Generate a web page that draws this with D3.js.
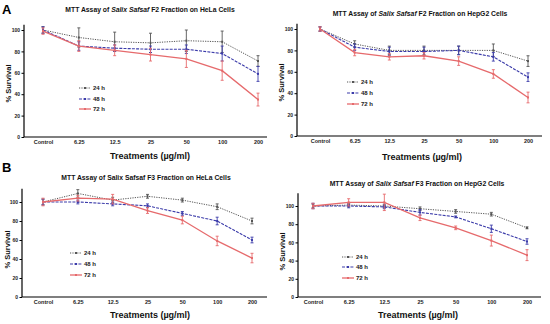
<!DOCTYPE html>
<html>
<head>
<meta charset="utf-8">
<script src="https://cdn.jsdelivr.net/npm/d3@7"></script>
<style>
  body { margin: 0; background: #fff; }
  svg { display: block; font-family: "Liberation Sans", Arial, sans-serif; }
</style>
</head>
<body>
<svg id="chart" width="550" height="324"></svg>
<script>
// categories shared by all four panels
const treatments = ["Control", "6.25", "12.5", "25", "50", "100", "200"];
const yTicks = [0, 20, 40, 60, 80, 100];
const seriesNames = ["24 h", "48 h", "72 h"];

// F2 on HeLa
const f2HelaMean24 = [100, 93, 89, 88, 90, 89, 71];
const f2HelaErr24  = [3, 9, 9, 9, 10, 10, 5];
const f2HelaMean48 = [100, 85, 83, 82, 82, 78, 59];
const f2HelaErr48  = [3, 4, 3, 3, 4, 7, 7];
const f2HelaMean72 = [99, 85, 81, 77, 73, 62, 35];
const f2HelaErr72  = [3, 5, 5, 6, 8, 9, 6];

// F2 on HepG2
const f2HepMean24 = [100, 86, 80, 80, 80, 80, 70];
const f2HepErr24  = [2, 3, 4, 4, 4, 6, 5];
const f2HepMean48 = [100, 83, 79, 79, 80, 74, 55];
const f2HepErr48  = [2, 3, 4, 4, 4, 4, 4];
const f2HepMean72 = [100, 78, 74, 75, 70, 58, 36];
const f2HepErr72  = [2, 3, 3, 3, 4, 4, 5];

// F3 on HeLa
const f3HelaMean24 = [100, 109, 102, 106, 102, 95, 80];
const f3HelaErr24  = [3, 4, 3, 2, 2, 3, 3];
const f3HelaMean48 = [100, 100, 98, 96, 88, 80, 60];
const f3HelaErr48  = [3, 2, 2, 2, 2, 4, 3];
const f3HelaMean72 = [100, 104, 103, 91, 81, 59, 41];
const f3HelaErr72  = [4, 3, 5, 3, 4, 5, 5];

// F3 on HepG2
const f3HepMean24 = [100, 101, 100, 97, 94, 91, 76];
const f3HepErr24  = [2, 2, 2, 2, 2, 2, 1];
const f3HepMean48 = [100, 100, 99, 93, 88, 75, 61];
const f3HepErr48  = [3, 2, 2, 3, 1, 4, 3];
const f3HepMean72 = [100, 104, 104, 87, 76, 62, 46];
const f3HepErr72  = [3, 4, 9, 3, 2, 6, 6];

const styles = [
  {color: "#555", dash: "1.2,1.2", width: 1},
  {color: "#3c3caa", dash: "3,1.2", width: 1.1},
  {color: "#e66a6c", dash: null, width: 1.3}
];

const svg = d3.select("#chart");

// panel layout (pixel frame of each plot)
const panels = [
  {title: ["MTT Assay of ", "Salix Safsaf", " F2 Fraction on HeLa Cells"], italic: true,
   axisX: 24, xEnd: 267, xFirst: 43, xLast: 258, y0: 137, y100: 30, yTop: 105,
   titleX: 150, titleY: 12, labelX: 150, labelY: 159, yLabelX: 8,
   legX: 79, legY: [88, 99, 109],
   means: [f2HelaMean24, f2HelaMean48, f2HelaMean72], errs: [f2HelaErr24, f2HelaErr48, f2HelaErr72]},
  {title: ["MTT Assay of ", "Salix Safsaf", " F2 Fraction on HepG2 Cells"], italic: true,
   axisX: 297, xEnd: 542, xFirst: 320, xLast: 528, y0: 136, y100: 29, yTop: 105,
   titleX: 420, titleY: 16, labelX: 422, labelY: 160, yLabelX: 281,
   legX: 347, legY: [82, 93, 104],
   means: [f2HepMean24, f2HepMean48, f2HepMean72], errs: [f2HepErr24, f2HepErr48, f2HepErr72]},
  {title: ["MTT Assay of ", "Salix Safsaf", " F3 Fraction on HeLa Cells"], italic: false,
   axisX: 22, xEnd: 267, xFirst: 43, xLast: 252, y0: 297, y100: 202, yTop: 114,
   titleX: 146, titleY: 180, labelX: 150, labelY: 318, yLabelX: 7,
   legX: 70, legY: [253, 264, 275],
   means: [f3HelaMean24, f3HelaMean48, f3HelaMean72], errs: [f3HelaErr24, f3HelaErr48, f3HelaErr72]},
  {title: ["MTT Assay of ", "Salix Safsaf", " F3 Fraction on HepG2 Cells"], italic: true,
   axisX: 298, xEnd: 541, xFirst: 313, xLast: 527, y0: 297, y100: 206, yTop: 114,
   titleX: 417, titleY: 186, labelX: 418, labelY: 318, yLabelX: 282,
   legX: 342, legY: [257, 267, 278],
   means: [f3HepMean24, f3HepMean48, f3HepMean72], errs: [f3HepErr24, f3HepErr48, f3HepErr72]}
];

function drawPanel(p) {
  const g = svg.append("g");
  const x = d3.scalePoint().domain(treatments).range([p.xFirst, p.xLast]);
  const y = d3.scaleLinear().domain([0, 100]).range([p.y0, p.y100]);

  // y axis
  const yAxis = g.append("g").attr("transform", `translate(${p.axisX},0)`)
    .call(d3.axisLeft(y).tickValues(yTicks).tickSize(2.5).tickPadding(1.5));
  yAxis.select(".domain").attr("d", `M0,${y(0)}V${y(p.yTop)}`).attr("stroke", "#000").attr("stroke-width", 1.2);
  yAxis.selectAll("text").attr("font-size", 5).attr("font-weight", "bold").attr("fill", "#222");

  // x axis
  const xAxis = g.append("g").attr("transform", `translate(0,${p.y0})`)
    .call(d3.axisBottom(x).tickSize(0).tickPadding(3));
  xAxis.select(".domain").attr("d", `M${p.axisX},0H${p.xEnd}`).attr("stroke", "#000").attr("stroke-width", 1.2);
  xAxis.selectAll("text").attr("font-size", 5.5).attr("font-weight", "bold").attr("fill", "#222");

  // title
  const t = g.append("text").attr("x", p.titleX).attr("y", p.titleY)
    .attr("text-anchor", "middle").attr("font-size", 6.8).attr("font-weight", "bold").attr("fill", "#111");
  p.title.forEach((s, i) => {
    t.append("tspan").text(s).attr("font-style", (i === 1 && p.italic) ? "italic" : "normal");
  });

  // axis labels
  g.append("text").attr("x", p.labelX).attr("y", p.labelY).attr("text-anchor", "middle")
    .attr("font-size", 9).attr("font-weight", "bold").attr("fill", "#111").text("Treatments (µg/ml)");
  g.append("text").attr("transform", `translate(${p.yLabelX},${(p.y0 + p.y100) / 2}) rotate(-90)`)
    .attr("text-anchor", "middle").attr("dy", "0.35em")
    .attr("font-size", 7.5).attr("font-weight", "bold").attr("fill", "#111").text("% Survival");

  // series: error bars, lines, markers
  p.means.forEach((vals, si) => {
    const st = styles[si];
    const pts = vals.map((v, i) => ({cat: treatments[i], v, e: p.errs[si][i]}));
    const eb = g.append("g").attr("stroke", st.color).attr("stroke-width", 0.9);
    eb.selectAll("line.v").data(pts).join("line").attr("class", "v")
      .attr("x1", d => x(d.cat)).attr("x2", d => x(d.cat))
      .attr("y1", d => y(d.v - d.e)).attr("y2", d => y(d.v + d.e));
    eb.selectAll("line.c1").data(pts).join("line").attr("class", "c1")
      .attr("x1", d => x(d.cat) - 1.5).attr("x2", d => x(d.cat) + 1.5)
      .attr("y1", d => y(d.v + d.e)).attr("y2", d => y(d.v + d.e));
    eb.selectAll("line.c2").data(pts).join("line").attr("class", "c2")
      .attr("x1", d => x(d.cat) - 1.5).attr("x2", d => x(d.cat) + 1.5)
      .attr("y1", d => y(d.v - d.e)).attr("y2", d => y(d.v - d.e));

    g.append("path").datum(pts)
      .attr("fill", "none").attr("stroke", st.color).attr("stroke-width", st.width)
      .attr("stroke-dasharray", st.dash)
      .attr("d", d3.line().x(d => x(d.cat)).y(d => y(d.v)));

    g.selectAll(null).data(pts).join("rect")
      .attr("x", d => x(d.cat) - 1).attr("y", d => y(d.v) - 1)
      .attr("width", 2).attr("height", 2).attr("fill", st.color);

    // legend entry
    const ly = p.legY[si];
    g.append("line").attr("x1", p.legX).attr("x2", p.legX + 12).attr("y1", ly).attr("y2", ly)
      .attr("stroke", st.color).attr("stroke-width", st.width).attr("stroke-dasharray", st.dash);
    g.append("rect").attr("x", p.legX + 5).attr("y", ly - 1).attr("width", 2).attr("height", 2).attr("fill", st.color);
    g.append("text").attr("x", p.legX + 14).attr("y", ly).attr("dy", "0.35em")
      .attr("font-size", 6).attr("font-weight", "bold").attr("fill", "#222").text(seriesNames[si]);
  });
}

panels.forEach(drawPanel);

// panel letters
svg.append("text").attr("x", 2).attr("y", 14).attr("font-size", 13).attr("font-weight", "bold").text("A");
svg.append("text").attr("x", 2).attr("y", 172).attr("font-size", 13).attr("font-weight", "bold").text("B");
</script>
</body>
</html>
